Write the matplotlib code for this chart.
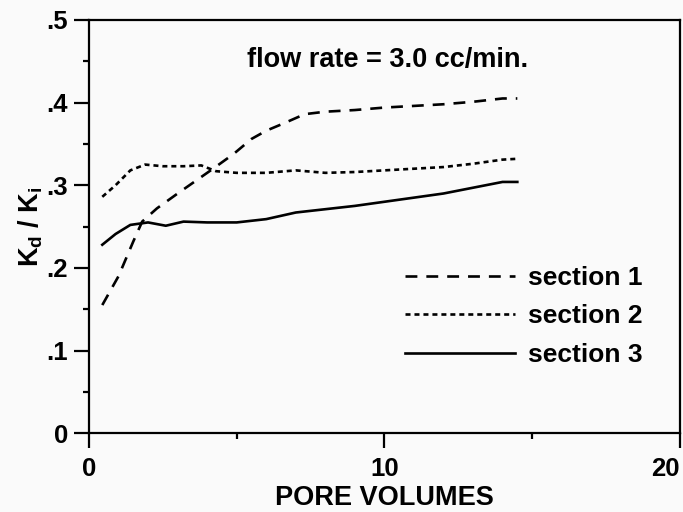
import matplotlib
matplotlib.use("Agg")
import matplotlib.pyplot as plt
from matplotlib.ticker import MultipleLocator, FixedLocator

plt.rcParams["font.family"] = ["Liberation Sans", "DejaVu Sans"]
plt.rcParams["font.weight"] = "bold"

# section 1 (dashed)
s1_x = [0.45, 1.0, 1.5, 1.8, 2.3, 3.0, 3.6, 4.2, 4.9, 5.5, 6.0, 6.6, 7.3, 8.0,
        9.0, 10.0, 11.0, 12.0, 13.0, 14.0, 14.5]
s1_y = [0.155, 0.19, 0.232, 0.256, 0.272, 0.290, 0.305, 0.320, 0.338, 0.356,
        0.366, 0.375, 0.386, 0.389, 0.391, 0.394, 0.396, 0.398, 0.401, 0.405, 0.405]

# section 2 (dotted)
s2_x = [0.45, 0.9, 1.4, 1.9, 2.5, 3.2, 3.8, 4.3, 5.0, 6.0, 7.0, 8.0, 9.0,
        10.0, 11.0, 12.0, 13.0, 14.0, 14.5]
s2_y = [0.286, 0.300, 0.318, 0.325, 0.323, 0.323, 0.324, 0.317, 0.315, 0.315,
        0.318, 0.315, 0.316, 0.318, 0.320, 0.322, 0.326, 0.331, 0.332]

# section 3 (solid)
s3_x = [0.45, 0.9, 1.4, 2.0, 2.6, 3.2, 4.0, 5.0, 6.0, 7.0, 8.0, 9.0, 10.0,
        11.0, 12.0, 13.0, 14.0, 14.5]
s3_y = [0.228, 0.241, 0.252, 0.255, 0.251, 0.256, 0.255, 0.255, 0.259, 0.267,
        0.271, 0.275, 0.280, 0.285, 0.290, 0.297, 0.304, 0.304]

labels = ["section 1", "section 2", "section 3"]
ytick_vals = [0, 0.1, 0.2, 0.3, 0.4, 0.5]
ytick_labels = ["0", ".1", ".2", ".3", ".4", ".5"]
xtick_vals = [0, 10, 20]
xtick_labels = ["0", "10", "20"]

bg = "#fafafa"
fig = plt.figure(figsize=(6.83, 5.12), dpi=100, facecolor=bg)
ax = fig.add_axes([0.1303, 0.154, 0.865, 0.807], facecolor=bg)

ax.plot(s1_x, s1_y, color="black", lw=1.9, dashes=(4.5, 3.4), label=labels[0])
ax.plot(s2_x, s2_y, color="black", lw=1.9, dashes=(1.9, 1.5), label=labels[1])
ax.plot(s3_x, s3_y, color="black", lw=1.9, label=labels[2])

ax.set_xlim(0, 20)
ax.set_ylim(0, 0.5)
ax.set_xticks(xtick_vals)
ax.set_xticklabels(xtick_labels)
ax.xaxis.set_minor_locator(FixedLocator([5, 15]))
ax.set_yticks(ytick_vals)
ax.set_yticklabels(ytick_labels)
ax.yaxis.set_minor_locator(MultipleLocator(0.05))

for s in ax.spines.values():
    s.set_linewidth(1.6)
ax.tick_params(which="major", direction="out", length=11, width=1.6,
               labelsize=18.5, pad=4)
ax.tick_params(axis="x", which="major", pad=6)
ax.tick_params(which="minor", direction="out", length=4, width=1.6)
ax.get_xticklabels()[-1].set_ha("right")
ax.get_xticklabels()[-1].set_x(20.1)

ax.set_xlabel("PORE VOLUMES", fontsize=19.5, fontweight="bold", labelpad=3)
ax.set_ylabel(r"K$_\mathregular{d}$ / K$_\mathregular{i}$", fontsize=19.5,
              fontweight="bold", labelpad=1)

ax.text(10.1, 0.451, "flow rate = 3.0 cc/min.", ha="center", va="center",
        fontsize=19.5, fontweight="bold")

leg = ax.legend(loc="upper left", bbox_to_anchor=(0.535, 0.405), frameon=False,
                fontsize=19, handlelength=4.15, handletextpad=0.5,
                borderaxespad=0, borderpad=0, labelspacing=0.55)
for t in leg.get_texts():
    t.set_fontweight("bold")

fig.savefig("out.png", dpi=100, facecolor=bg)
